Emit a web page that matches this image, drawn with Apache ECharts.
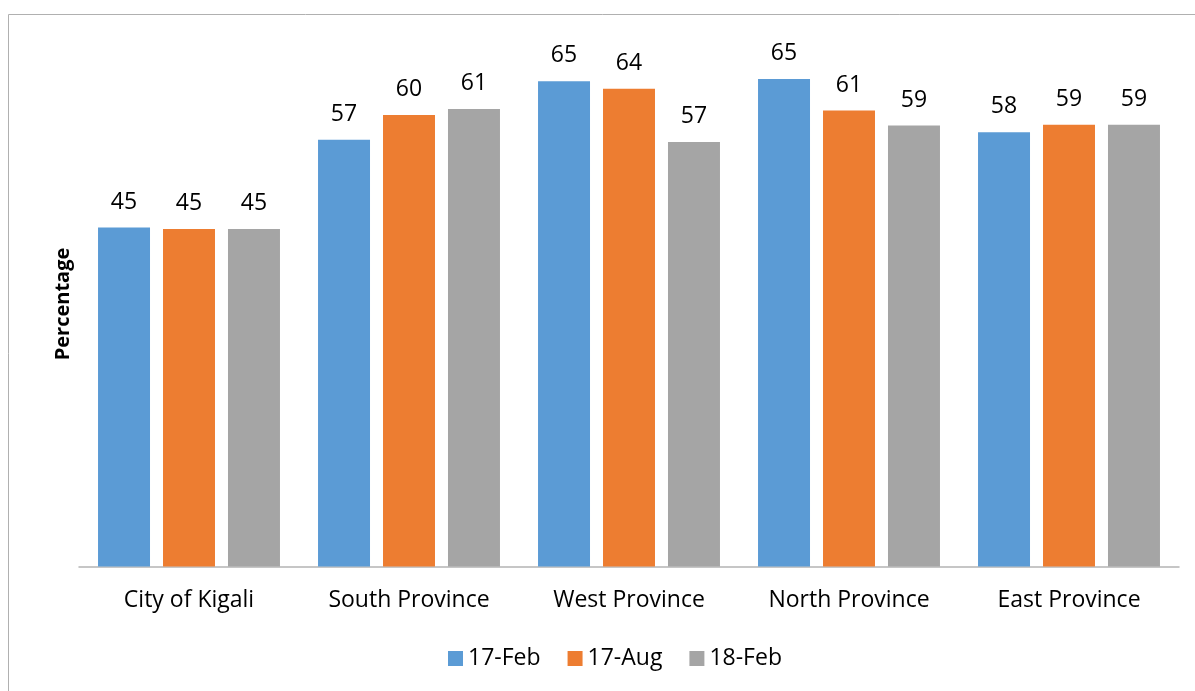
<!DOCTYPE html>
<html>
<head>
    <meta charset="utf-8">
    <title>Percentage by province</title>
    <script src="https://cdn.jsdelivr.net/npm/echarts@6/dist/echarts.min.js"></script>
    <style>
        html, body {margin: 0; padding: 0; background: #fff;}
        #main {width: 1195px; height: 691px;}
    </style>
</head>
<body>
<div id="main"></div>
<script type="text/javascript">
    // data
    var categories = ['City of Kigali', 'South Province', 'West Province', 'North Province', 'East Province'];
    var seriesNames = ['17-Feb', '17-Aug', '18-Feb'];
    var feb17 = [45.2, 56.9, 64.7, 65.0, 57.9];
    var aug17 = [45.0, 60.2, 63.7, 60.8, 58.9];
    var feb18 = [45.0, 61.0, 56.6, 58.8, 58.9];
    var colors = ['#5B9BD5', '#ED7D31', '#A5A5A5'];

    var font = '"Open Sans", "Noto Sans", sans-serif';
    var myChart = echarts.init(document.getElementById('main'));

    function makeSeries(name, data, color) {
        return {
            name: name,
            type: 'bar',
            data: data,
            barGap: '25%',
            barCategoryGap: '17.3%',
            itemStyle: {color: color},
            label: {
                show: true,
                position: 'top',
                distance: 14,
                color: '#000',
                fontFamily: font,
                fontSize: 23,
                formatter: function (p) { return Math.round(p.value); }
            }
        };
    }

    var option = {
        animation: false,
        textStyle: {fontFamily: font},
        graphic: [{
            type: 'rect',
            shape: {x: 8.5, y: 14.5, width: 1200, height: 700},
            style: {fill: 'none', stroke: '#b0b0b0', lineWidth: 1}
        }],
        grid: {left: 79, right: 16, top: 41.5, bottom: 124.5},
        legend: {
            data: seriesNames,
            bottom: 16,
            left: 443,
            itemWidth: 15,
            itemHeight: 15,
            itemGap: 27,
            icon: 'rect',
            textStyle: {fontSize: 23, color: '#000', fontFamily: font}
        },
        xAxis: {
            type: 'category',
            data: categories,
            axisTick: {show: false},
            axisLine: {lineStyle: {color: '#b4b4b4', width: 1.5}},
            axisLabel: {color: '#000', fontSize: 23, fontFamily: font, margin: 22}
        },
        yAxis: {
            type: 'value',
            min: 0,
            max: 70,
            interval: 10,
            name: 'Percentage',
            nameLocation: 'middle',
            nameGap: 6,
            nameTextStyle: {fontSize: 20, fontWeight: 'bold', color: '#000', fontFamily: font},
            axisLine: {show: false},
            axisTick: {show: false},
            axisLabel: {show: false},
            splitLine: {show: false}
        },
        series: [
            makeSeries(seriesNames[0], feb17, colors[0]),
            makeSeries(seriesNames[1], aug17, colors[1]),
            makeSeries(seriesNames[2], feb18, colors[2])
        ]
    };

    myChart.setOption(option);
</script>
</body>
</html>
